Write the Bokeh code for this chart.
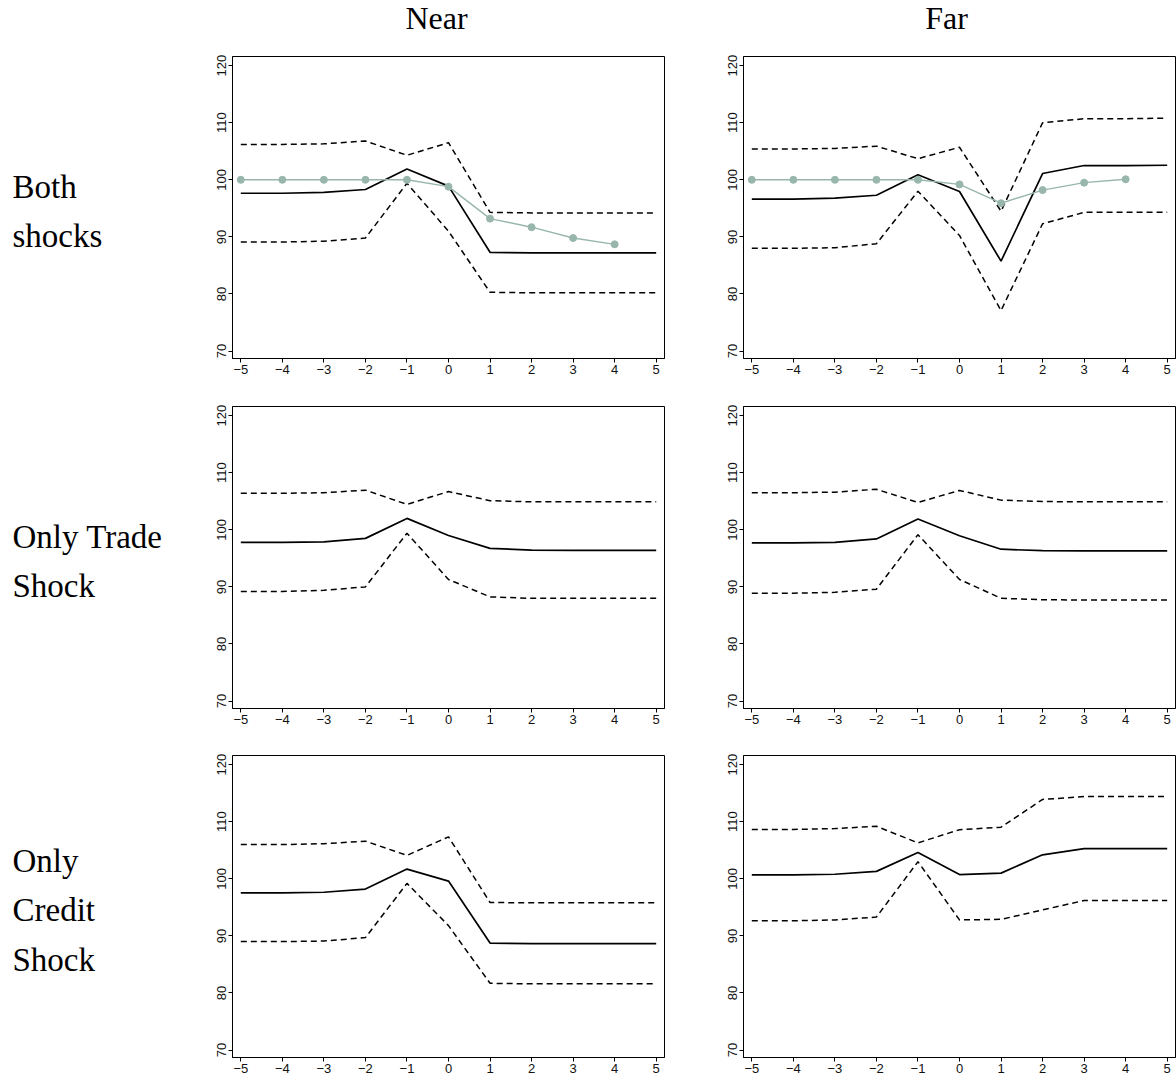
from bokeh.plotting import figure
from bokeh.layouts import column, row
from bokeh.models import Range1d, FixedTicker
from bokeh.core.properties import value
from bokeh.embed import file_html
from bokeh.resources import INLINE

# ---------------- data ----------------
years = [-5, -4, -3, -2, -1, 0, 1, 2, 3, 4, 5]
actual_years = [-5, -4, -3, -2, -1, 0, 1, 2, 3, 4]

col_titles = ["Near", "Far"]
row_titles = [["Both", "shocks"], ["Only Trade", "Shock"], ["Only", "Credit", "Shock"]]

# Both shocks - Near
near_both_upper = [106.2, 106.2, 106.3, 106.8, 104.3, 106.5, 94.3, 94.2, 94.2, 94.2, 94.2]
near_both_mean = [97.65, 97.65, 97.8, 98.3, 101.9, 98.9, 87.3, 87.2, 87.2, 87.2, 87.2]
near_both_lower = [89.1, 89.1, 89.25, 89.8, 99.4, 91.0, 80.3, 80.2, 80.2, 80.2, 80.2]
near_both_actual = [100.0, 100.0, 100.0, 100.0, 100.0, 98.8, 93.2, 91.7, 89.8, 88.7]

# Both shocks - Far
far_both_upper = [105.4, 105.4, 105.5, 105.9, 103.7, 105.7, 94.5, 110.0, 110.7, 110.7, 110.8]
far_both_mean = [96.6, 96.6, 96.8, 97.3, 100.9, 97.95, 85.75, 101.1, 102.5, 102.5, 102.55]
far_both_lower = [88.0, 88.0, 88.1, 88.8, 98.0, 90.25, 77.1, 92.3, 94.3, 94.3, 94.3]
far_both_actual = [100.0, 100.0, 100.0, 100.0, 100.0, 99.2, 95.9, 98.2, 99.5, 100.1]

# Only trade shock - Near
near_trade_upper = [106.4, 106.4, 106.5, 106.95, 104.45, 106.7, 105.1, 104.9, 104.9, 104.9, 104.9]
near_trade_mean = [97.8, 97.8, 97.9, 98.5, 102.0, 99.0, 96.75, 96.45, 96.4, 96.4, 96.4]
near_trade_lower = [89.2, 89.2, 89.4, 90.0, 99.4, 91.3, 88.25, 88.0, 88.0, 88.0, 88.0]

# Only trade shock - Far
far_trade_upper = [106.5, 106.5, 106.6, 107.1, 104.8, 106.9, 105.2, 104.95, 104.9, 104.9, 104.9]
far_trade_mean = [97.7, 97.7, 97.8, 98.4, 101.9, 98.95, 96.6, 96.35, 96.3, 96.3, 96.3]
far_trade_lower = [88.9, 88.9, 89.05, 89.6, 99.15, 91.3, 88.0, 87.75, 87.7, 87.7, 87.7]

# Only credit shock - Near
near_credit_upper = [106.0, 106.0, 106.15, 106.6, 104.1, 107.35, 95.85, 95.8, 95.8, 95.8, 95.8]
near_credit_mean = [97.55, 97.55, 97.65, 98.2, 101.7, 99.6, 88.75, 88.65, 88.65, 88.65, 88.65]
near_credit_lower = [89.0, 89.0, 89.1, 89.7, 99.2, 91.8, 81.7, 81.6, 81.6, 81.6, 81.6]

# Only credit shock - Far
far_credit_upper = [108.65, 108.65, 108.8, 109.2, 106.3, 108.6, 109.05, 113.9, 114.4, 114.4, 114.4]
far_credit_mean = [100.7, 100.7, 100.8, 101.3, 104.6, 100.75, 101.0, 104.2, 105.3, 105.3, 105.3]
far_credit_lower = [92.65, 92.65, 92.8, 93.3, 103.0, 92.8, 92.9, 94.55, 96.2, 96.2, 96.2]

x_ticks = [-5, -4, -3, -2, -1, 0, 1, 2, 3, 4, 5]
y_ticks = [70, 80, 90, 100, 110, 120]

# ---------------- style ----------------
SERIF = "Liberation Serif"
SANS = "Liberation Sans"
GREEN = "#98b6ab"
FRAME_H = 302
TEXT_SHIFT = 11  # rendered baseline sits this far below the given y


def panel(upper, mean, lower, actual, width, height, left, right, top, bottom):
    p = figure(width=width, height=height, title=None,
               x_range=Range1d(-5.2, 5.2), y_range=Range1d(68.7, 121.6),
               output_backend="svg", toolbar_location=None,
               min_border_left=left, min_border_right=right,
               min_border_top=top, min_border_bottom=bottom,
               background_fill_color="white", border_fill_color="white")
    p.outline_line_color = "black"
    p.outline_line_width = 1
    p.grid.visible = False
    p.xaxis.ticker = FixedTicker(ticks=x_ticks)
    p.yaxis.ticker = FixedTicker(ticks=y_ticks)
    p.xaxis.major_label_overrides = {t: (("\u2212" + str(-t)) if t < 0 else str(t)) for t in x_ticks}
    p.yaxis.major_label_orientation = "vertical"
    for ax in (p.xaxis, p.yaxis):
        ax.axis_line_color = "black"
        ax.major_tick_in = 0
        ax.major_tick_out = 4
        ax.minor_tick_line_color = None
        ax.major_tick_line_color = "black"
        ax.major_label_text_font = SANS
        ax.major_label_text_font_size = "13px"
        ax.major_label_text_color = "#111111"
        ax.major_label_standoff = 2
    p.line(years, upper, line_color="black", line_width=1.5, line_dash="6 4")
    p.line(years, lower, line_color="black", line_width=1.5, line_dash="6 4")
    p.line(years, mean, line_color="black", line_width=1.7)
    if actual is not None:
        p.line(actual_years, actual, line_color=GREEN, line_width=1.4)
        p.scatter(actual_years, actual, size=7, fill_color=GREEN, line_color=GREEN)
    return p


def label_fig(width, height, y_top, y_bottom, xs, baselines, texts, size, align="left"):
    # y range expressed in page pixels (top -> bottom) of the figure's frame
    p = figure(width=width, height=height, title=None,
               x_range=Range1d(0, width), y_range=Range1d(y_bottom, y_top),
               x_axis_location=None, y_axis_location=None,
               output_backend="svg", toolbar_location=None,
               min_border=0, background_fill_color="white", border_fill_color="white")
    p.grid.visible = False
    p.outline_line_color = None
    ys = [b - TEXT_SHIFT for b in baselines]
    p.text(x=xs, y=ys, text=texts, text_font=value(SERIF), text_font_size=size,
           text_align=align, text_baseline="alphabetic", text_color="black")
    return p


LABEL_W = 200
NEAR_W = 511
FAR_W = 465
HEADER_H = 48

header = label_fig(1176, HEADER_H, 0, HEADER_H, [436, 946], [28, 28], col_titles, "32px", align="center")

rows_spec = [
    # row start, height, top border, bottom border, label baselines (page px)
    (48, 342, 8, 32, [197, 246]),
    (390, 349, 16, 31, [547, 596]),
    (739, 337, 16, 19, [871, 920, 970]),
]

panels_data = [
    ((near_both_upper, near_both_mean, near_both_lower, near_both_actual),
     (far_both_upper, far_both_mean, far_both_lower, far_both_actual)),
    ((near_trade_upper, near_trade_mean, near_trade_lower, None),
     (far_trade_upper, far_trade_mean, far_trade_lower, None)),
    ((near_credit_upper, near_credit_mean, near_credit_lower, None),
     (far_credit_upper, far_credit_mean, far_credit_lower, None)),
]

rows = [header]
for (start, h, top, bottom, baselines), titles, (nd, fd) in zip(rows_spec, row_titles, panels_data):
    f_top = start + top
    lab = label_fig(LABEL_W, h, f_top, f_top + FRAME_H, [12] * len(titles), baselines, titles, "33px")
    pn = panel(*nd, width=NEAR_W, height=h, left=32, right=47, top=top, bottom=bottom)
    pf = panel(*fd, width=FAR_W, height=h, left=32, right=1, top=top, bottom=bottom)
    rows.append(row(lab, pn, pf, spacing=0))

layout = column(*rows, spacing=0)

with open("out.html", "w") as f:
    f.write(file_html(layout, INLINE))
